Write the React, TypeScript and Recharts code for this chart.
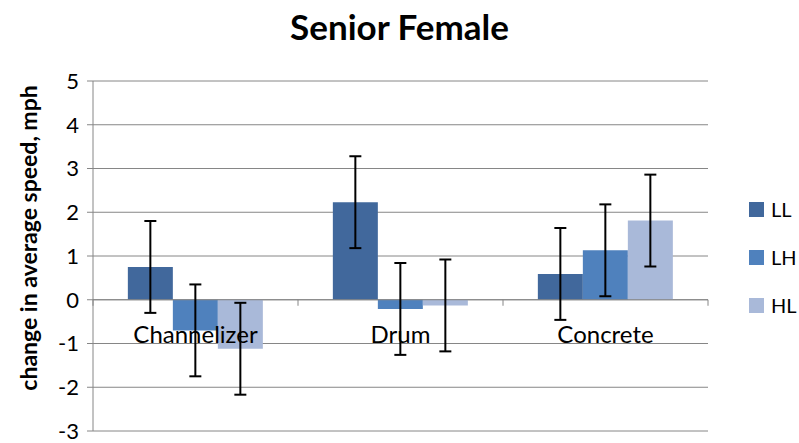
import { Bar, BarChart, CartesianGrid, ErrorBar, Legend, ReferenceLine, XAxis, YAxis } from "recharts"

const categories = ["Channelizer", "Drum", "Concrete"]
const ll = [0.75, 2.23, 0.59]
const lh = [-0.7, -0.21, 1.13]
const hl = [-1.12, -0.13, 1.81]
const llErr = [1.05, 1.05, 1.05]
const lhErr = [1.05, 1.05, 1.05]
const hlErr = [1.05, 1.05, 1.05]
const yTicks = [-3, -2, -1, 0, 1, 2, 3, 4, 5]

const series = [
  { key: "LL", color: "#41689c" },
  { key: "LH", color: "#4f81bd" },
  { key: "HL", color: "#a9b9d9" },
]

const data = categories.map((name, i) => ({
  name,
  LL: ll[i],
  LH: lh[i],
  HL: hl[i],
  llErr: llErr[i],
  lhErr: lhErr[i],
  hlErr: hlErr[i],
}))

const W = 799
const H = 443
const xAxisHeight = 1
const margin = { top: 81, right: 91, bottom: 11, left: 0 }
const yAxisWidth = 93
const font = "Lato, 'Open Sans', sans-serif"
const axisGray = "#868686"

const plotH = H - margin.top - margin.bottom - xAxisHeight
const plotW = W - margin.left - margin.right - yAxisWidth
const yMin = yTicks[0]
const yMax = yTicks[yTicks.length - 1]
const zeroY = margin.top + (plotH * (yMax - 0)) / (yMax - yMin)
const band = plotW / categories.length

function CategoryTick(props: any) {
  const { x, payload, index } = props
  return (
    <g>
      <line x1={x + band / 2} x2={x + band / 2} y1={zeroY} y2={zeroY + 6} stroke={axisGray} />
      {index === 0 && <line x1={x - band / 2} x2={x - band / 2} y1={zeroY} y2={zeroY + 6} stroke={axisGray} />}
      <text x={x} y={zeroY + 43} textAnchor="middle" fontSize={24} fill="#000" fontFamily={font}>
        {payload.value}
      </text>
    </g>
  )
}

function LegendBox() {
  return (
    <div style={{ fontFamily: font }}>
      {series.map((s) => (
        <div key={s.key} style={{ display: "flex", alignItems: "center", height: 48 }}>
          <span style={{ width: 15, height: 15, background: s.color, marginRight: 7 }} />
          <span style={{ fontSize: 20, color: "#000" }}>{s.key}</span>
        </div>
      ))}
    </div>
  )
}

function YLabel(props: any) {
  const vb = props.viewBox
  const cx = vb.x + 28
  const cy = vb.y + vb.height / 2 - 18
  return (
    <text
      x={cx}
      y={cy}
      transform={`rotate(-90, ${cx}, ${cy})`}
      textAnchor="middle"
      dominantBaseline="central"
      fontSize={23}
      fontWeight="bold"
      fontFamily={font}
      fill="#000"
    >
      change in average speed, mph
    </text>
  )
}

export default function App() {
  return (
    <div style={{ position: "absolute", left: 0, top: 0, width: W, height: H, background: "#fff" }}>
      <div
        style={{
          position: "absolute",
          left: 0,
          top: 5,
          width: W,
          textAlign: "center",
          fontFamily: font,
          fontWeight: "bold",
          fontSize: 35,
        }}
      >
        Senior Female
      </div>
      <BarChart width={W} height={H} data={data} margin={margin} barCategoryGap="17%" barGap={0}>
        <CartesianGrid vertical={false} stroke={axisGray} />
        <XAxis
          dataKey="name"
          height={xAxisHeight}
          axisLine={false}
          tickLine={false}
          tick={<CategoryTick />}
          interval={0}
        />
        <YAxis
          width={yAxisWidth}
          domain={[yMin, yMax]}
          ticks={yTicks}
          interval={0}
          stroke={axisGray}
          tickSize={6}
          tickMargin={8}
          tick={{ fill: "#000", fontSize: 22, fontFamily: font }}
          label={<YLabel />}
        />
        <ReferenceLine y={0} stroke={axisGray} />
        <Legend
          layout="vertical"
          align="center"
          verticalAlign="middle"
          content={<LegendBox />}
          wrapperStyle={{ left: 749, top: 185, width: "auto" }}
        />
        <Bar dataKey="LL" fill={series[0].color} isAnimationActive={false}>
          <ErrorBar dataKey="llErr" width={6} strokeWidth={2} stroke="#000" />
        </Bar>
        <Bar dataKey="LH" fill={series[1].color} isAnimationActive={false}>
          <ErrorBar dataKey="lhErr" width={6} strokeWidth={2} stroke="#000" />
        </Bar>
        <Bar dataKey="HL" fill={series[2].color} isAnimationActive={false}>
          <ErrorBar dataKey="hlErr" width={6} strokeWidth={2} stroke="#000" />
        </Bar>
      </BarChart>
    </div>
  )
}
